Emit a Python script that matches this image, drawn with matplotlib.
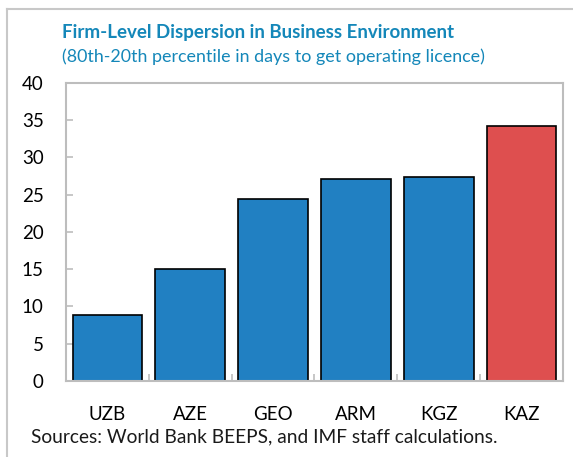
import numpy as np
import matplotlib
matplotlib.use("Agg")
import matplotlib.pyplot as plt
from matplotlib.lines import Line2D

COUNTRIES = ["UZB", "AZE", "GEO", "ARM", "KGZ", "KAZ"]
VALUES = [8.9, 15.0, 24.4, 27.1, 27.4, 34.2]
HIGHLIGHT = "KAZ"

TITLE = "Firm-Level Dispersion in Business Environment"
SUBTITLE = "(80th-20th percentile in days to get operating licence)"
SOURCE = "Sources: World Bank BEEPS, and IMF staff calculations."

BLUE = "#2180C2"
RED = "#DE4F4F"
TEAL = "#1487B9"
GREY = "#BDBDBD"

plt.rcParams["font.family"] = ["Lato", "DejaVu Sans"]

fig = plt.figure(figsize=(5.73, 4.57), dpi=100)
ax = fig.add_axes([0.1152, 0.1663, 0.8673, 0.6521])

x = np.arange(len(COUNTRIES))
colors = [RED if c == HIGHLIGHT else BLUE for c in COUNTRIES]
ax.bar(x, VALUES, width=0.84, color=colors, edgecolor="black", linewidth=1.2,
       zorder=2)

ax.set_xlim(-0.5, len(COUNTRIES) - 0.5)
ax.set_ylim(0, 40)
ax.set_yticks(range(0, 41, 5))
ax.set_xticks(x)
ax.set_xticklabels(COUNTRIES)
ax.tick_params(axis="x", length=0, pad=18, labelsize=13.5)
ax.tick_params(axis="y", direction="in", length=5, color=GREY, width=1.2,
               pad=16, labelsize=13.5)

# category separator ticks on the x axis
ax.set_xticks(x[:-1] + 0.5, minor=True)
ax.tick_params(axis="x", which="minor", direction="in", length=5,
               color=GREY, width=1.2)

for sp in ax.spines.values():
    sp.set_color(GREY)
    sp.set_linewidth(1.5)
    sp.set_zorder(3)

fig.text(0.108, 0.928, TITLE, color=TEAL, fontsize=13.5, fontweight="bold",
         ha="left", va="center")
fig.text(0.108, 0.876, SUBTITLE, color=TEAL, fontsize=12.9,
         ha="left", va="center")
fig.text(0.054, 0.043, SOURCE, color="#1a1a1a", fontsize=13.8,
         ha="left", va="center")

# outer frame (left and top)
fig.add_artist(Line2D([0.013, 0.013], [0.0, 0.980], color="#C8C8C8", lw=1.5,
                      transform=fig.transFigure))
fig.add_artist(Line2D([0.013, 1.0], [0.980, 0.980], color="#C8C8C8", lw=1.5,
                      transform=fig.transFigure))

fig.savefig("out.png", dpi=100)
